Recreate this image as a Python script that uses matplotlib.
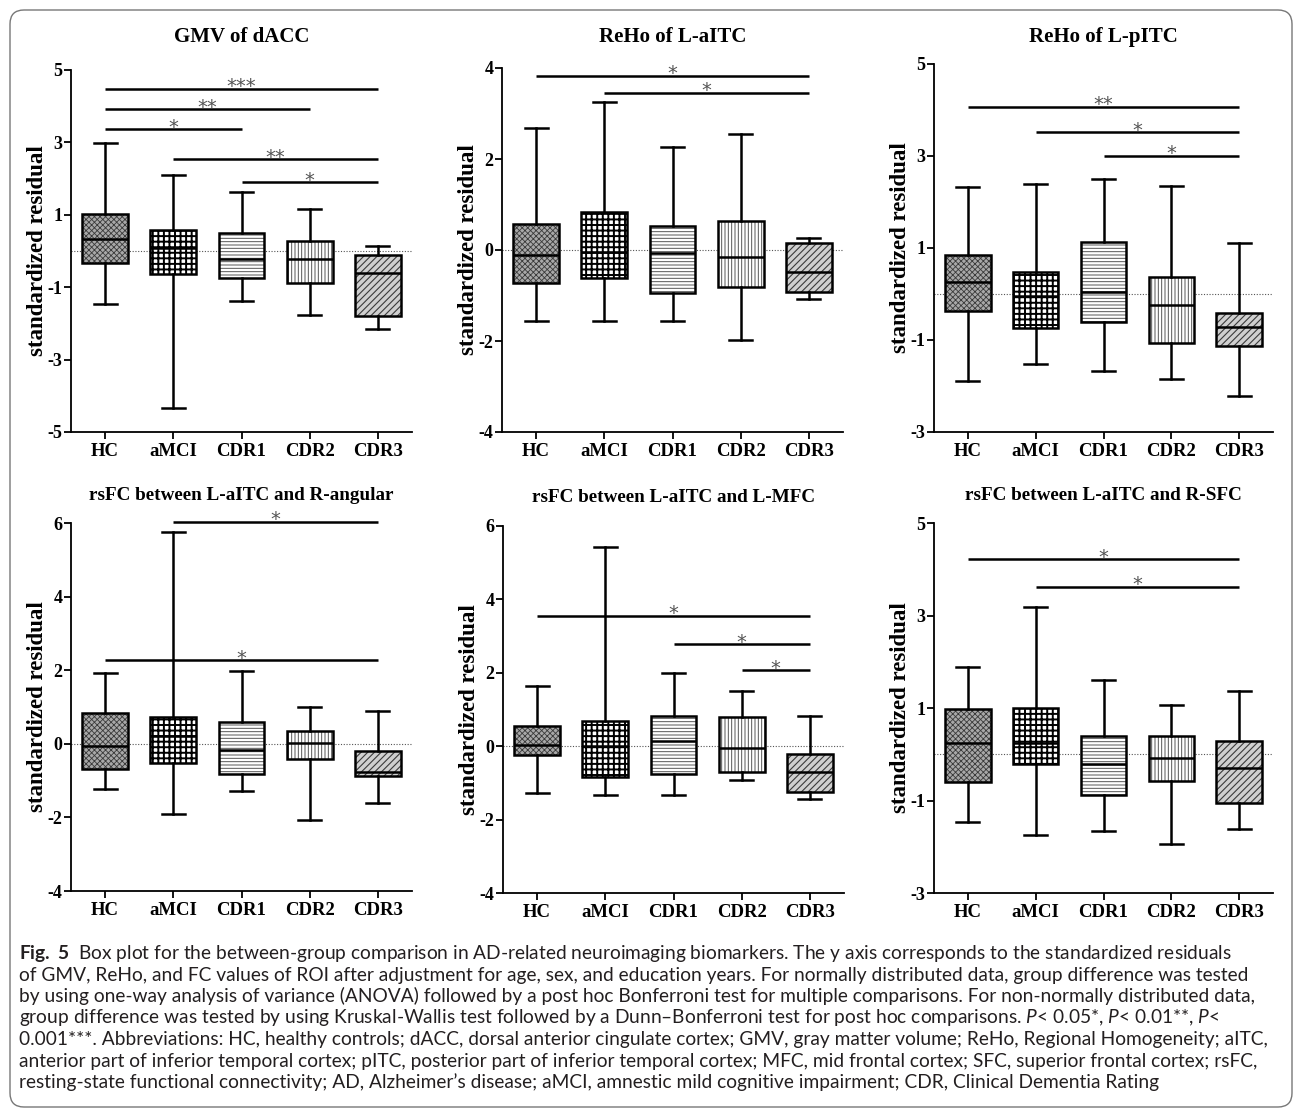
import matplotlib
matplotlib.use("Agg")
import matplotlib.pyplot as plt
from matplotlib.patches import PathPatch, FancyBboxPatch
from matplotlib.transforms import IdentityTransform

W, H, DPI = 1295, 1115, 100

plt.rcParams["font.family"] = ["Liberation Serif", "DejaVu Serif"]
plt.rcParams["axes.unicode_minus"] = False
plt.rcParams["mathtext.fontset"] = "custom"
plt.rcParams["mathtext.rm"] = "Lato"
plt.rcParams["mathtext.it"] = "Lato:italic"
plt.rcParams["mathtext.bf"] = "Lato:bold"

groups = ["HC", "aMCI", "CDR1", "CDR2", "CDR3"]

# ---- Panel A: GMV of dACC
a_title = "GMV of dACC"
a_whislo = [-1.46, -4.34, -1.37, -1.76, -2.15]
a_q1 = [-0.34, -0.63, -0.75, -0.89, -1.79]
a_med = [0.33, 0.07, -0.22, -0.23, -0.61]
a_q3 = [1.02, 0.58, 0.49, 0.27, -0.12]
a_whishi = [2.99, 2.11, 1.64, 1.17, 0.14]
a_sig = [(0, 4, 4.48, "***"), (0, 3, 3.91, "**"), (0, 2, 3.36, "*"),
         (1, 4, 2.54, "**"), (2, 4, 1.90, "*")]
a_yticks = [-5, -3, -1, 1, 3, 5]

# ---- Panel B: ReHo of L-aITC
b_title = "ReHo of L-aITC"
b_whislo = [-1.57, -1.57, -1.55, -1.97, -1.07]
b_q1 = [-0.73, -0.62, -0.95, -0.82, -0.92]
b_med = [-0.12, -0.04, -0.07, -0.16, -0.49]
b_q3 = [0.58, 0.83, 0.53, 0.64, 0.15]
b_whishi = [2.68, 3.25, 2.26, 2.56, 0.27]
b_sig = [(0, 4, 3.83, "*"), (1, 4, 3.45, "*")]
b_yticks = [-4, -2, 0, 2, 4]

# ---- Panel C: ReHo of L-pITC
c_title = "ReHo of L-pITC"
c_whislo = [-1.89, -1.52, -1.67, -1.84, -2.21]
c_q1 = [-0.37, -0.73, -0.61, -1.07, -1.14]
c_med = [0.27, -0.04, 0.05, -0.24, -0.71]
c_q3 = [0.84, 0.47, 1.12, 0.36, -0.42]
c_whishi = [2.32, 2.39, 2.49, 2.35, 1.10]
c_sig = [(0, 4, 4.07, "**"), (1, 4, 3.52, "*"), (2, 4, 3.00, "*")]
c_yticks = [-3, -1, 1, 3, 5]

# ---- Panel D: rsFC between L-aITC and R-angular
d_title = "rsFC between L-aITC and R-angular"
d_whislo = [-1.22, -1.91, -1.29, -2.08, -1.62]
d_q1 = [-0.69, -0.51, -0.83, -0.42, -0.88]
d_med = [-0.05, 0.21, -0.16, 0.01, -0.77]
d_q3 = [0.84, 0.72, 0.60, 0.34, -0.20]
d_whishi = [1.92, 5.76, 1.99, 0.99, 0.90]
d_sig = [(1, 4, 6.03, "*"), (0, 4, 2.27, "*")]
d_yticks = [-4, -2, 0, 2, 4, 6]

# ---- Panel E: rsFC between L-aITC and L-MFC
e_title = "rsFC between L-aITC and L-MFC"
e_whislo = [-1.27, -1.34, -1.34, -0.93, -1.43]
e_q1 = [-0.23, -0.85, -0.75, -0.70, -1.25]
e_med = [0.03, 0.00, 0.14, -0.04, -0.70]
e_q3 = [0.56, 0.69, 0.82, 0.79, -0.20]
e_whishi = [1.63, 5.42, 2.00, 1.51, 0.82]
e_sig = [(0, 4, 3.55, "*"), (2, 4, 2.78, "*"), (3, 4, 2.07, "*")]
e_yticks = [-4, -2, 0, 2, 4, 6]

# ---- Panel F: rsFC between L-aITC and R-SFC
f_title = "rsFC between L-aITC and R-SFC"
f_whislo = [-1.47, -1.75, -1.67, -1.94, -1.62]
f_q1 = [-0.61, -0.22, -0.89, -0.57, -1.05]
f_med = [0.25, 0.25, -0.21, -0.09, -0.29]
f_q3 = [0.97, 1.00, 0.40, 0.40, 0.28]
f_whishi = [1.88, 3.18, 1.61, 1.07, 1.36]
f_sig = [(0, 4, 4.22, "*"), (1, 4, 3.62, "*")]
f_yticks = [-3, -1, 1, 3, 5]

ylabel = "standardized residual"

caption_lines = [
    r"$\mathbf{Fig.\ 5}$  Box plot for the between-group comparison in AD-related neuroimaging biomarkers. The y axis corresponds to the standardized residuals",
    "of GMV, ReHo, and FC values of ROI after adjustment for age, sex, and education years. For normally distributed data, group difference was tested",
    "by using one-way analysis of variance (ANOVA) followed by a post hoc Bonferroni test for multiple comparisons. For non-normally distributed data,",
    r"group difference was tested by using Kruskal-Wallis test followed by a Dunn–Bonferroni test for post hoc comparisons. $\mathit{P}$< 0.05*, $\mathit{P}$< 0.01**, $\mathit{P}$<",
    "0.001***. Abbreviations: HC, healthy controls; dACC, dorsal anterior cingulate cortex; GMV, gray matter volume; ReHo, Regional Homogeneity; aITC,",
    "anterior part of inferior temporal cortex; pITC, posterior part of inferior temporal cortex; MFC, mid frontal cortex; SFC, superior frontal cortex; rsFC,",
    "resting-state functional connectivity; AD, Alzheimer’s disease; aMCI, amnestic mild cognitive impairment; CDR, Clinical Dementia Rating",
]

# ---- layout (pixels: left, top, right, bottom), title y, title size
panels = [
    (a_title, a_whislo, a_q1, a_med, a_q3, a_whishi, a_sig, a_yticks, (71, 70, 412, 432), 37, 15),
    (b_title, b_whislo, b_q1, b_med, b_q3, b_whishi, b_sig, b_yticks, (502, 68, 843, 432), 37, 15),
    (c_title, c_whislo, c_q1, c_med, c_q3, c_whishi, c_sig, c_yticks, (934, 64, 1273, 432), 37, 15),
    (d_title, d_whislo, d_q1, d_med, d_q3, d_whishi, d_sig, d_yticks, (71, 523, 412, 891), 495, 13.8),
    (e_title, e_whislo, e_q1, e_med, e_q3, e_whishi, e_sig, e_yticks, (503, 526, 844, 893), 497, 13.8),
    (f_title, f_whislo, f_q1, f_med, f_q3, f_whishi, f_sig, f_yticks, (934, 523, 1273, 893), 495, 13.8),
]

fills = [
    dict(fc="#a8a8a8", hc="#3a3a3a", hatch="xxxxxx", hlw=0.6),
    dict(fc="white", hc="black", hatch="+++", hlw=1.4),
    dict(fc="white", hc="#555555", hatch="-----", hlw=0.7),
    dict(fc="white", hc="#555555", hatch="|||||", hlw=0.7),
    dict(fc="#cfcfcf", hc="#3a3a3a", hatch="/////", hlw=0.8),
]

fig = plt.figure(figsize=(W / DPI, H / DPI), dpi=DPI)
fig.patch.set_facecolor("white")

LW = 1.8
pos = [1, 2, 3, 4, 5]

for (title, lo, q1, med, q3, hi, sig, yt, rect, ty, tsize) in panels:
    l, t, r, b = rect
    ax = fig.add_axes([l / W, 1 - b / H, (r - l) / W, (b - t) / H])
    stats = [dict(med=m, q1=a_, q3=c_, whislo=w1, whishi=w2, fliers=[])
             for w1, a_, m, c_, w2 in zip(lo, q1, med, q3, hi)]
    bp = ax.bxp(stats, positions=pos, widths=0.67, capwidths=0.34,
                patch_artist=True, showfliers=False, manage_ticks=False,
                boxprops=dict(facecolor="none", edgecolor="black", linewidth=LW),
                medianprops=dict(color="black", linewidth=LW),
                whiskerprops=dict(color="black", linewidth=LW),
                capprops=dict(color="black", linewidth=LW))
    for box, st in zip(bp["boxes"], fills):
        pp = PathPatch(box.get_path(), transform=box.get_transform(),
                       facecolor=st["fc"], edgecolor=st["hc"], hatch=st["hatch"],
                       linewidth=0, zorder=box.get_zorder() - 0.2)
        if hasattr(pp, "set_hatch_linewidth"):
            pp.set_hatch_linewidth(st["hlw"])
        ax.add_patch(pp)
    ax.axhline(0, color="#555555", lw=0.8, ls=(0, (1, 1.5)), zorder=1)
    for i, j, y, lab in sig:
        ax.plot([pos[i], pos[j]], [y, y], color="black", lw=LW, clip_on=False,
                solid_capstyle="butt")
        ax.annotate(lab, xy=((pos[i] + pos[j]) / 2, y), xytext=(0, -2.5),
                    textcoords="offset points", ha="center", va="baseline",
                    fontsize=14, color="#555555", family="DejaVu Sans",
                    annotation_clip=False)
    ax.set_xlim(0.5, 5.5)
    ax.set_ylim(yt[0], yt[-1])
    ax.set_xticks(pos)
    ax.set_xticklabels(groups)
    ax.set_yticks(yt)
    ax.set_yticklabels([str(v) for v in yt])
    for s in ["top", "right"]:
        ax.spines[s].set_visible(False)
    for s in ["left", "bottom"]:
        ax.spines[s].set_linewidth(1.3)
    ax.tick_params(width=1.3, length=5)
    ax.tick_params(axis="y", pad=1, labelsize=13)
    ax.tick_params(axis="x", pad=3, labelsize=13.5)
    for lab in ax.get_xticklabels() + ax.get_yticklabels():
        lab.set_fontweight("bold")
    ax.set_ylabel(ylabel, fontsize=16.5, fontweight="bold", va="baseline")
    ax.yaxis.set_label_coords(-28 / (r - l), 0.5)
    fig.text((l + r) / 2 / W, 1 - ty / H, title, ha="center", va="center",
             fontsize=tsize, fontweight="bold")

# ---- caption
cap_x0 = 19
cap_base0 = 959
cap_step = 21.5
cap_targets = [1253, 1248, 1258, 1222, 1262, 1248]
texts = []
for k, line in enumerate(caption_lines):
    tx = fig.text(cap_x0 / W, 1 - (cap_base0 + k * cap_step) / H, line,
                  ha="left", va="baseline", fontsize=10, color="#231f20",
                  family="Lato")
    texts.append(tx)
renderer = fig.canvas.get_renderer()
widths = [t.get_window_extent(renderer=renderer).width for t in texts[:6]]
scale = sum(tg - cap_x0 for tg in cap_targets) / sum(widths)
for t in texts:
    t.set_fontsize(10 * scale)

# ---- rounded frame
frame = FancyBboxPatch((10, 8), 1282, 1097,
                       boxstyle="round,pad=0,rounding_size=14",
                       transform=IdentityTransform(), fill=False,
                       edgecolor="#777777", linewidth=1.0)
fig.add_artist(frame)

fig.savefig("out.png", dpi=DPI)
